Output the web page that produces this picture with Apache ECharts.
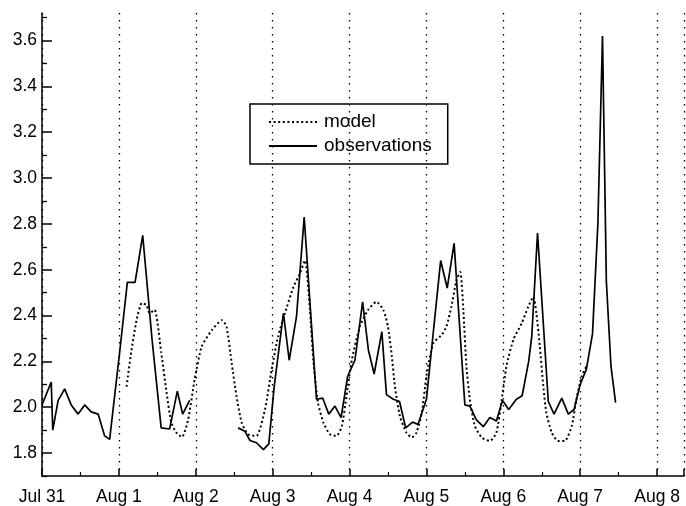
<!DOCTYPE html>
<html>
<head>
<meta charset="utf-8">
<title>model vs observations</title>
<script src="https://cdn.jsdelivr.net/npm/echarts@6/dist/echarts.min.js"></script>
<style>
  html, body { margin: 0; padding: 0; background: #fff; }
  #main { width: 686px; height: 506px; }
</style>
</head>
<body>
<div id="main"></div>
<script>
// x in days since Jul 31 00:00
var xTickLabels = ['Jul 31', 'Aug 1', 'Aug 2', 'Aug 3', 'Aug 4', 'Aug 5', 'Aug 6', 'Aug 7', 'Aug 8'];
var yTickLabels = ['1.8', '2.0', '2.2', '2.4', '2.6', '2.8', '3.0', '3.2', '3.4', '3.6'];

var obsDays = [0.00, 0.12, 0.14, 0.21, 0.295, 0.38, 0.47, 0.555, 0.64, 0.73, 0.815, 0.88,
  1.01, 1.11, 1.21, 1.31, 1.43, 1.55, 1.66, 1.76, 1.83, 1.92, 2.2,
  2.55, 2.64, 2.705, 2.79, 2.88, 2.95, 3.02, 3.14, 3.215, 3.31, 3.41, 3.57, 3.65, 3.73, 3.81, 3.89, 3.975,
  4.07, 4.17, 4.245, 4.32, 4.42, 4.48, 4.57, 4.65, 4.73, 4.82, 4.89,
  5.0, 5.185, 5.27, 5.36, 5.50, 5.565, 5.65, 5.74, 5.825, 5.91, 5.99,
  6.07, 6.17, 6.245, 6.33, 6.37, 6.445, 6.585, 6.66, 6.76, 6.845, 6.92,
  7.0, 7.08, 7.16, 7.23, 7.29, 7.34, 7.40, 7.46];
var obsValues = [2.01, 2.11, 1.90, 2.03, 2.08, 2.01, 1.97, 2.01, 1.98, 1.97, 1.875, 1.86,
  2.24, 2.545, 2.545, 2.75, 2.30, 1.91, 1.905, 2.07, 1.97, 2.03, null,
  1.91, 1.895, 1.855, 1.845, 1.815, 1.84, 2.09, 2.41, 2.205, 2.395, 2.83, 2.035, 2.04, 1.97, 2.005, 1.955, 2.135,
  2.205, 2.46, 2.25, 2.145, 2.33, 2.055, 2.035, 2.025, 1.91, 1.935, 1.925,
  2.035, 2.64, 2.52, 2.715, 2.01, 2.005, 1.945, 1.915, 1.955, 1.94, 2.03,
  1.99, 2.035, 2.05, 2.20, 2.31, 2.76, 2.025, 1.97, 2.04, 1.97, 1.99,
  2.10, 2.165, 2.32, 2.80, 3.62, 2.55, 2.18, 2.02];

var modelDays = [1.10, 1.16, 1.23, 1.30, 1.36, 1.40, 1.465, 1.55, 1.62, 1.68, 1.745, 1.82, 1.90, 1.985,
  2.077, 2.21, 2.34, 2.40, 2.467, 2.53, 2.597, 2.68, 2.79, 2.90, 2.987,
  3.07, 3.16, 3.27, 3.35, 3.42, 3.485, 3.53, 3.59, 3.66, 3.745, 3.83, 3.90, 3.96,
  4.03, 4.135, 4.24, 4.35, 4.44, 4.50, 4.55, 4.59, 4.655, 4.74, 4.81, 4.87, 4.94,
  5.0, 5.09, 5.20, 5.26, 5.325, 5.39, 5.44, 5.48, 5.52, 5.565, 5.63, 5.72, 5.825, 5.91, 5.98,
  6.04, 6.13, 6.24, 6.325, 6.39, 6.43, 6.475, 6.52, 6.56, 6.63, 6.71, 6.80, 6.89, 6.95,
  7.02, 7.08];
var modelValues = [2.09, 2.24, 2.38, 2.455, 2.445, 2.41, 2.425, 2.24, 2.065, 1.935, 1.89, 1.87, 1.945, 2.12,
  2.265, 2.337, 2.38, 2.352, 2.193, 2.048, 1.933, 1.882, 1.875, 1.99, 2.164,
  2.308, 2.41, 2.525, 2.58, 2.64, 2.424, 2.2, 2.019, 1.933, 1.882, 1.875, 1.918, 2.048,
  2.207, 2.352, 2.424, 2.46, 2.424, 2.352, 2.222, 2.092, 1.961, 1.889, 1.868, 1.889, 1.976,
  2.135, 2.28, 2.316, 2.352, 2.439, 2.554, 2.59, 2.424, 2.178, 2.034, 1.918, 1.868, 1.853, 1.889, 2.034,
  2.178, 2.294, 2.367, 2.439, 2.482, 2.41, 2.265, 2.092, 1.976, 1.889, 1.853, 1.853, 1.918, 2.034,
  2.135, 2.178];

function pairs(xs, ys) {
    return xs.map(function (x, i) { return [x, ys[i] === null ? '-' : ys[i]]; });
}

var majorY = yTickLabels.map(Number);
var minorY = [1.7, 1.9, 2.1, 2.3, 2.5, 2.7, 2.9, 3.1, 3.3, 3.5, 3.7];
var font = '"Liberation Sans", Arial, sans-serif';

var option = {
    backgroundColor: '#fff',
    animation: false,
    grid: { left: 42, right: 2, top: 13, bottom: 28 },
    legend: {
        data: ['model', 'observations'],
        orient: 'vertical',
        left: 250,
        top: 104,
        itemWidth: 48,
        itemHeight: 10,
        itemGap: 4,
        padding: [8, 16, 8, 18],
        borderColor: '#000',
        borderWidth: 1.5,
        itemStyle: { color: 'transparent', borderWidth: 0, opacity: 0 },
        textStyle: { color: '#000', fontSize: 19, fontFamily: font, lineHeight: 20, padding: [0, 0, 0, 2] }
    },
    xAxis: {
        type: 'value',
        min: 0,
        max: 8.35,
        interval: 1,
        axisLine: { lineStyle: { color: '#000', width: 1.5 } },
        axisTick: { inside: true, length: 7, lineStyle: { color: '#000', width: 1.5 } },
        minorTick: { show: true, splitNumber: 2, length: 4, lineStyle: { color: '#000', width: 1.2 } },
        splitLine: { show: true, lineStyle: { color: '#000', width: 1.3, type: [1.5, 5.5] } },
        axisLabel: {
            color: '#000', fontSize: 17.5, fontFamily: font, margin: 12, showMaxLabel: false,
            formatter: function (v) {
                var i = Math.round(v);
                return Math.abs(v - i) < 1e-6 ? (xTickLabels[i] || '') : '';
            }
        }
    },
    yAxis: [{
        type: 'value',
        min: 1.7,
        max: 3.72,
        position: 'left',
        axisLine: { show: true, lineStyle: { color: '#000', width: 1.5 } },
        axisTick: { inside: true, length: 10, customValues: majorY, lineStyle: { color: '#000', width: 1.5 } },
        splitLine: { show: false },
        axisLabel: {
            color: '#000', fontSize: 17.5, fontFamily: font, margin: 5,
            customValues: majorY,
            formatter: function (v) { return v.toFixed(1); }
        }
    }, {
        type: 'value',
        min: 1.7,
        max: 3.72,
        position: 'left',
        axisLine: { show: false },
        axisTick: { show: true, inside: true, length: 5, customValues: minorY, lineStyle: { color: '#000', width: 1.3 } },
        splitLine: { show: false },
        axisLabel: { show: false }
    }],
    series: [{
        name: 'model',
        type: 'line',
        data: pairs(modelDays, modelValues),
        symbol: 'none',
        smooth: 0.2,
        lineStyle: { color: '#000', width: 2, type: [2, 2.6] },
        itemStyle: { color: '#000' }
    }, {
        name: 'observations',
        type: 'line',
        data: pairs(obsDays, obsValues),
        symbol: 'none',
        connectNulls: false,
        lineStyle: { color: '#000', width: 1.7 },
        itemStyle: { color: '#000' }
    }]
};

var myChart = echarts.init(document.getElementById('main'));
myChart.setOption(option);
</script>
</body>
</html>
